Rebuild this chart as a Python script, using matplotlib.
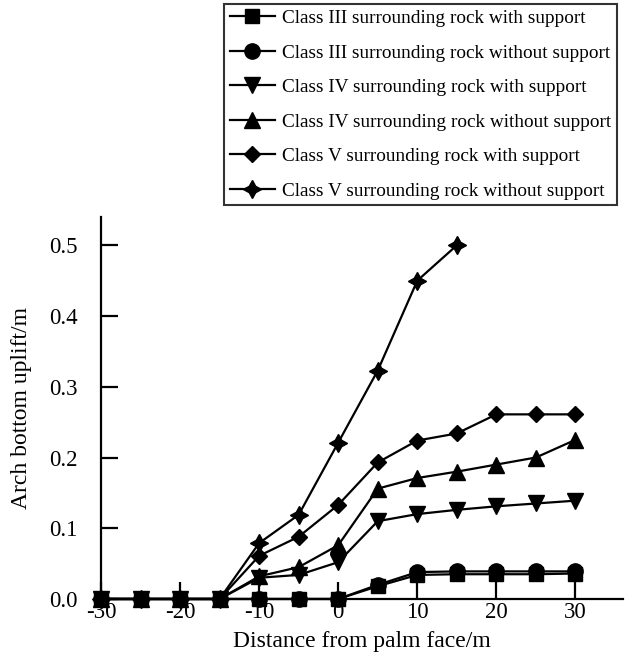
import matplotlib
matplotlib.use("Agg")
import matplotlib.pyplot as plt

plt.rcParams['font.family'] = ['Liberation Serif', 'DejaVu Serif']
plt.rcParams['axes.unicode_minus'] = False

x = [-30, -25, -20, -15, -10, -5, 0, 5, 10, 15, 20, 25, 30]
x_v_wo = [-30, -25, -20, -15, -10, -5, 0, 5, 10, 15]

labels = [
    "Class III surrounding rock with support",
    "Class III surrounding rock without support",
    "Class IV surrounding rock with support",
    "Class IV surrounding rock without support",
    "Class V surrounding rock with support",
    "Class V surrounding rock without support",
]

iii_with = [0, 0, 0, 0, 0, 0, 0, 0.018, 0.034, 0.035, 0.035, 0.035, 0.036]
iii_without = [0, 0, 0, 0, 0, 0, 0, 0.02, 0.038, 0.039, 0.039, 0.039, 0.039]
iv_with = [0, 0, 0, 0, 0.03, 0.034, 0.052, 0.11, 0.12, 0.126, 0.131, 0.135, 0.139]
iv_without = [0, 0, 0, 0, 0.032, 0.045, 0.076, 0.156, 0.171, 0.18, 0.19, 0.2, 0.225]
v_with = [0, 0, 0, 0, 0.061, 0.088, 0.133, 0.193, 0.224, 0.234, 0.261, 0.261, 0.261]
v_without = [0, 0, 0, 0, 0.079, 0.119, 0.221, 0.323, 0.45, 0.5]

fig = plt.figure(figsize=(6.25, 6.62), dpi=100)
ax = fig.add_axes([0.1616, 0.0952, 0.835, 0.577])

series = [
    (x, iii_with, 's', 10),
    (x, iii_without, 'o', 11),
    (x, iv_with, 'v', 11),
    (x, iv_without, '^', 11),
    (x, v_with, 'D', 8),
    (x_v_wo, v_without, (4, 1, 0), 13),
]
handles = []
for (xs, ys, m, ms), lab in zip(series, labels):
    h, = ax.plot(xs, ys, color='black', lw=1.6, marker=m, markersize=ms,
                 markerfacecolor='black', markeredgecolor='black', label=lab,
                 clip_on=False)
    handles.append(h)

ax.set_xlim(-30, 36)
ax.set_ylim(0, 0.54)
ax.set_xticks([-30, -20, -10, 0, 10, 20, 30])
ax.set_yticks([0.0, 0.1, 0.2, 0.3, 0.4, 0.5])
ax.set_yticklabels(["0.0", "0.1", "0.2", "0.3", "0.4", "0.5"])
for s in ['top', 'right']:
    ax.spines[s].set_visible(False)
for s in ['left', 'bottom']:
    ax.spines[s].set_linewidth(1.6)
ax.tick_params(direction='in', length=12, width=1.6, labelsize=16.5)
ax.tick_params(axis='y', pad=17)
ax.tick_params(axis='x', pad=2)
ax.set_xlabel("Distance from palm face/m", fontsize=17, labelpad=6)
ax.set_ylabel("Arch bottom uplift/m", fontsize=17, labelpad=12)

leg = fig.legend(handles=handles, loc='upper right', bbox_to_anchor=(0.994, 1.0),
                 fontsize=13.9, frameon=True, fancybox=False, edgecolor='black',
                 handlelength=2.3, labelspacing=0.88, borderpad=0.3,
                 handletextpad=0.4, borderaxespad=0.2)
leg.get_frame().set_linewidth(1.5)

fig.savefig("out.png", dpi=100)
